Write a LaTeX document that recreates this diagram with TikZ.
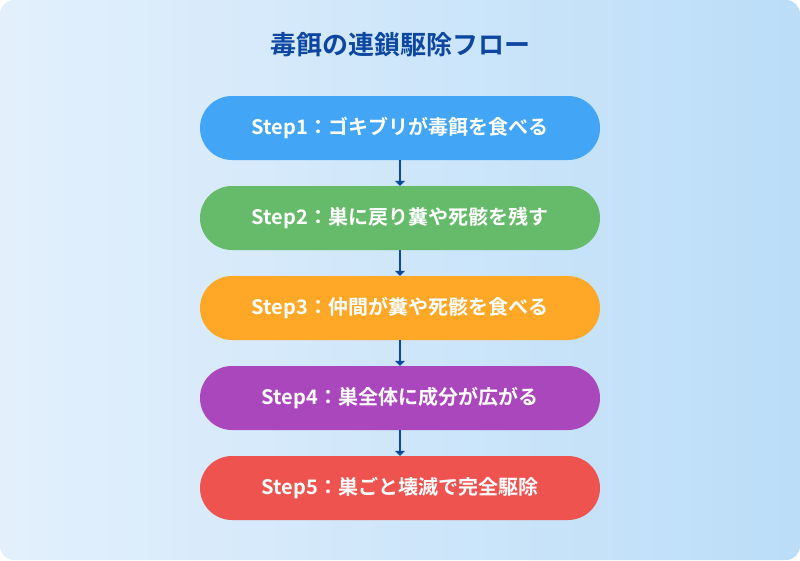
\documentclass[tikz,border=0pt]{standalone}
\usepackage{fontspec}
\setmainfont{Noto Sans CJK JP}[BoldFont={Noto Sans CJK JP Bold}]
\usetikzlibrary{arrows.meta}
\definecolor{c1}{HTML}{42A5F5}
\definecolor{c2}{HTML}{66BB6A}
\definecolor{c3}{HTML}{FFA726}
\definecolor{c4}{HTML}{AB47BC}
\definecolor{c5}{HTML}{EF5350}
\definecolor{ttl}{HTML}{0D47A1}
\definecolor{bgA}{HTML}{E3F0FC}
\definecolor{bgB}{HTML}{BBDDF8}
\begin{document}
\begin{tikzpicture}[x=1pt,y=-1pt,
  stepbox/.style={rounded corners=32pt,minimum width=400pt,minimum height=64pt,text=white,font=\bfseries\fontsize{20}{22}\selectfont,inner sep=0pt},
  arr/.style={draw=ttl,line width=2.2pt,-{Triangle[width=10pt,length=5pt]}}]
\useasboundingbox (0,0) rectangle (800,560);
\shade[left color=bgA,right color=bgB,rounded corners=14pt] (0,0) rectangle (800,560);
\node[text=ttl,font=\bfseries\fontsize{26}{28}\selectfont] (t) at (400,45) {毒餌の連鎖駆除フロー};
\node[stepbox,fill=c1] (s1) at (400,128) {Step1：ゴキブリが毒餌を食べる};
\node[stepbox,fill=c2] (s2) at (400,218) {Step2：巣に戻り糞や死骸を残す};
\node[stepbox,fill=c3] (s3) at (400,308) {Step3：仲間が糞や死骸を食べる};
\node[stepbox,fill=c4] (s4) at (400,398) {Step4：巣全体に成分が広がる};
\node[stepbox,fill=c5] (s5) at (400,488) {Step5：巣ごと壊滅で完全駆除};
\foreach \a/\b in {s1/s2,s2/s3,s3/s4,s4/s5} \draw[arr] (\a) -- (\b);
\end{tikzpicture}
\end{document}
